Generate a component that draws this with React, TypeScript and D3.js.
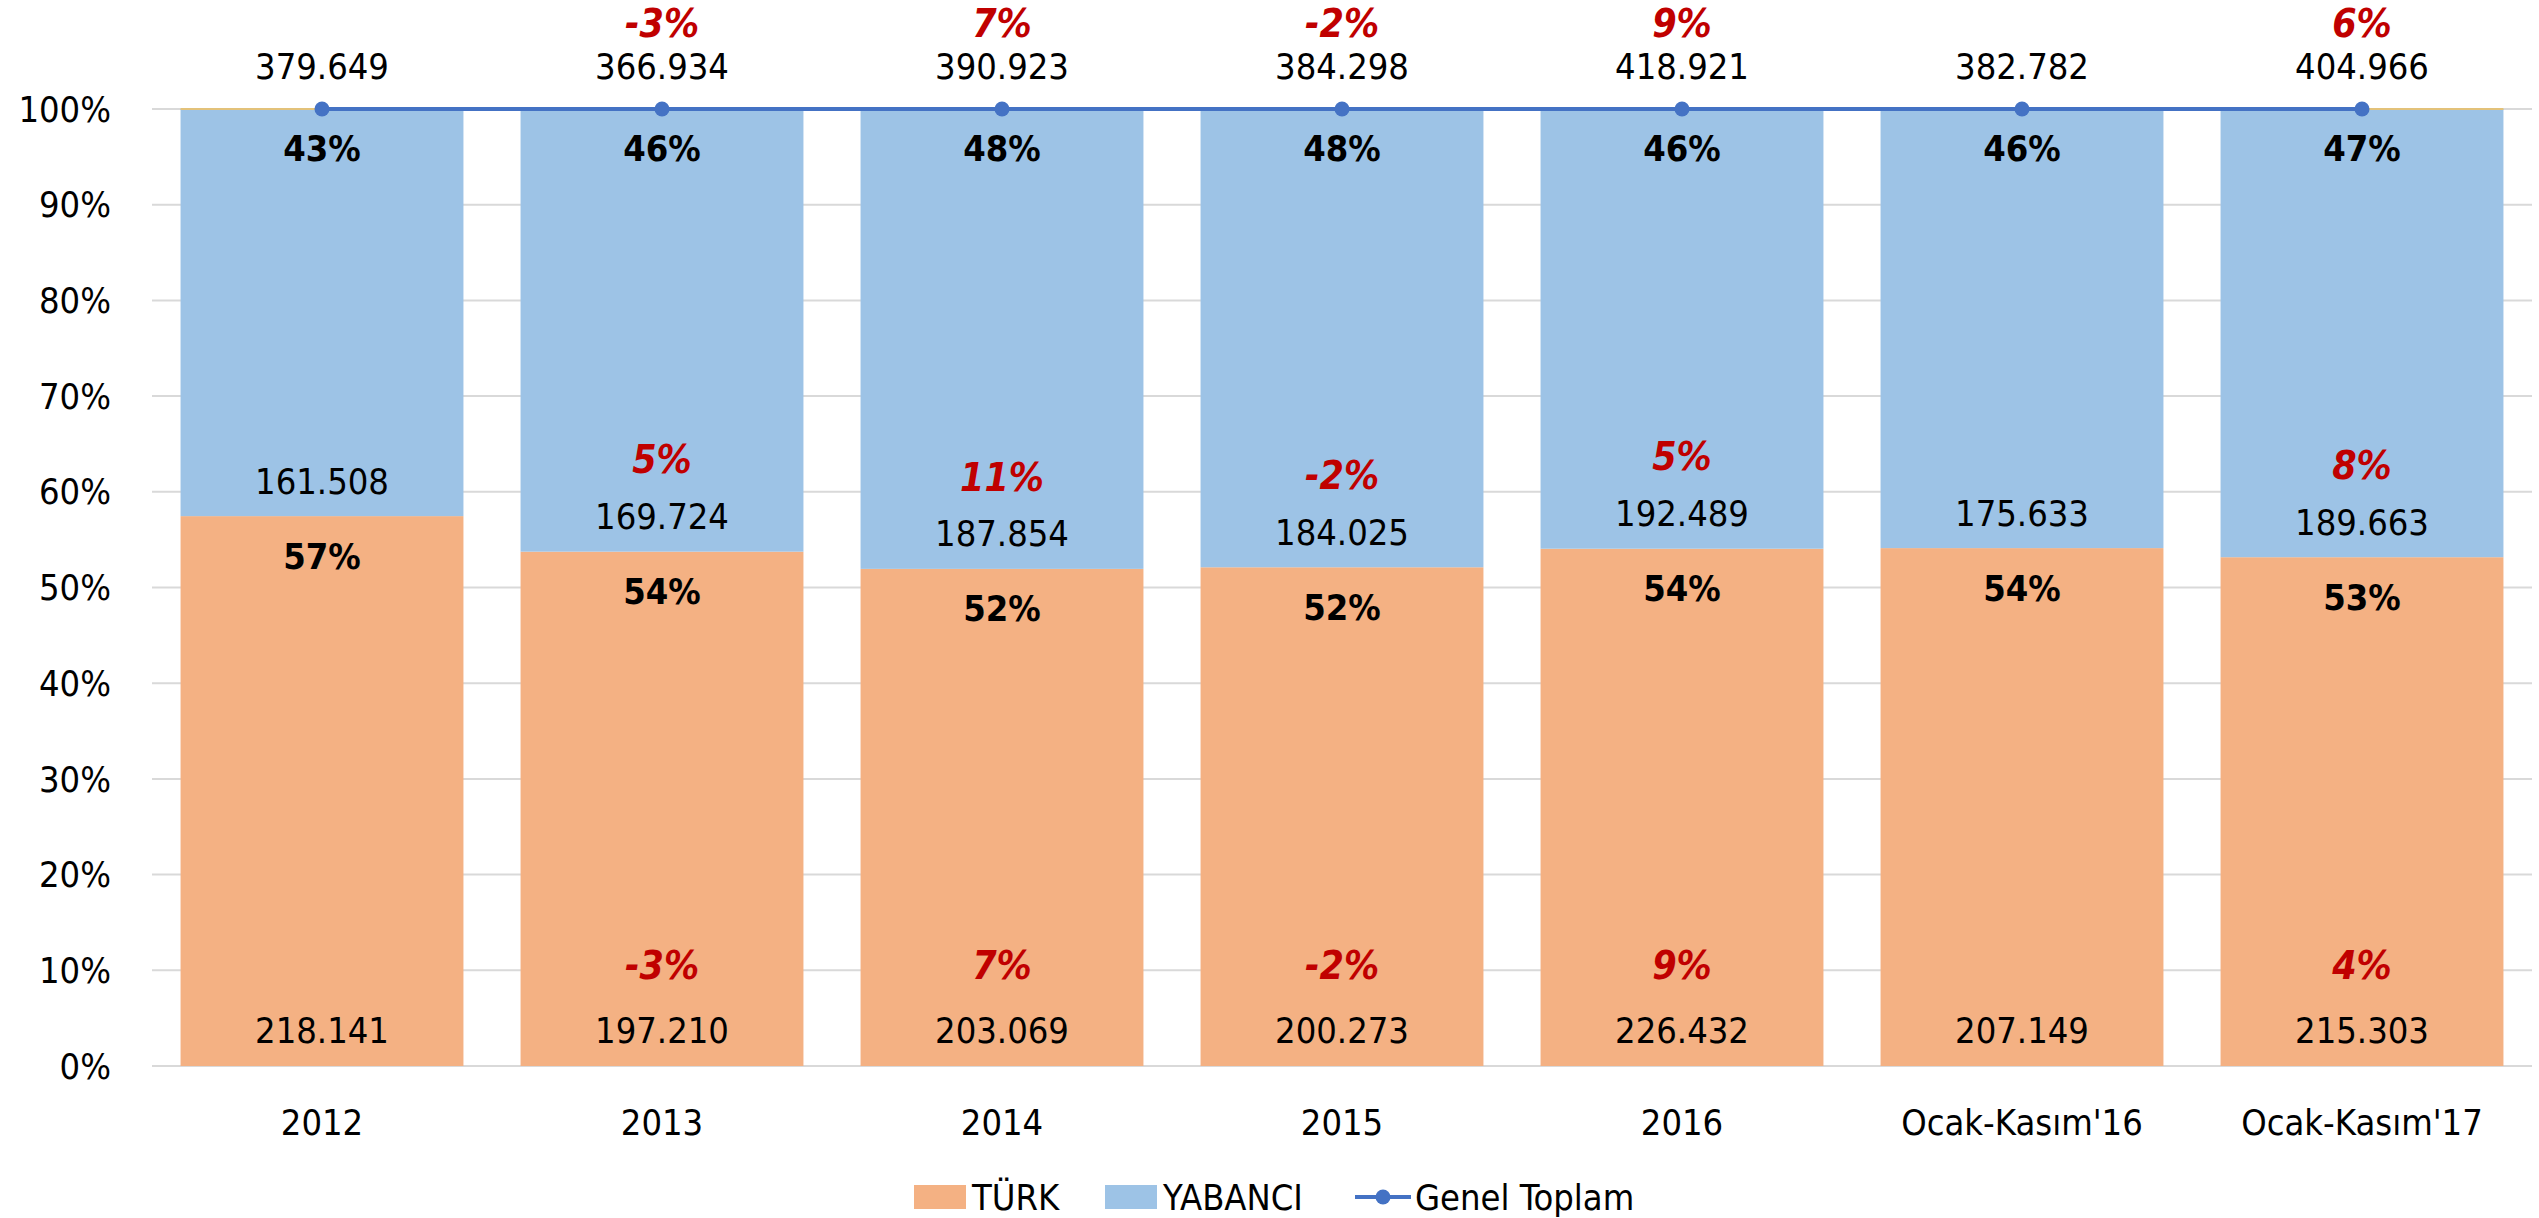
import { useEffect } from "react";
import { scaleBand, scaleLinear, format } from "d3";

// data
const categories = ["2012", "2013", "2014", "2015", "2016", "Ocak-Kasım'16", "Ocak-Kasım'17"];
const turk = [218141, 197210, 203069, 200273, 226432, 207149, 215303];
const yabanci = [161508, 169724, 187854, 184025, 192489, 175633, 189663];
const genelToplam = [379649, 366934, 390923, 384298, 418921, 382782, 404966];
// change labels written on the chart (red)
const toplamChange = ["", "-3%", "7%", "-2%", "9%", "", "6%"];
const yabanciChange = ["", "5%", "11%", "-2%", "5%", "", "8%"];
const turkChange = ["", "-3%", "7%", "-2%", "9%", "", "4%"];
const yTicks = [0, 0.1, 0.2, 0.3, 0.4, 0.5, 0.6, 0.7, 0.8, 0.9, 1];

const W = 2539;
const H = 1218;
const FONT = "'DejaVu Sans Condensed', 'Liberation Sans Narrow', 'DejaVu Sans', sans-serif";
const TURK_COLOR = "#F4B183";
const YAB_COLOR = "#9DC3E6";
const LINE_COLOR = "#4472C4";
const RED = "#C00000";

const num = (v: number) => format(",")(v).replace(/,/g, ".");
const pct = format(".0%");

function App() {
  useEffect(() => {
    document.body.style.margin = "0";
  }, []);

  const x = scaleBand<string>()
    .domain(categories)
    .range([152, 2532])
    .paddingInner(0.168)
    .paddingOuter(0.084);
  const y = scaleLinear().domain([0, 1]).range([1066, 109]);

  const rows = categories.map((c, i) => {
    const tShare = turk[i] / genelToplam[i];
    const yShare = yabanci[i] / genelToplam[i];
    return { c, i, tShare, yShare };
  });

  const bw = x.bandwidth();
  const cx = (c: string) => (x(c) as number) + bw / 2;
  const first = categories[0];
  const last = categories[categories.length - 1];

  return (
    <svg width={W} height={H} style={{ display: "block", background: "#fff" }} fontFamily={FONT}>
      {/* gridlines */}
      {yTicks.map((t) => (
        <line key={t} x1={152} x2={2532} y1={y(t)} y2={y(t)} stroke="#D9D9D9" strokeWidth={2} />
      ))}
      {/* y axis labels */}
      {yTicks.map((t) => (
        <text key={"l" + t} x={111} y={y(t)} dy="0.35em" textAnchor="end" fontSize={36} fill="#000">
          {pct(t)}
        </text>
      ))}

      {/* stacked bars */}
      {rows.map((r) => (
        <g key={r.c}>
          <rect x={x(r.c)} y={y(r.tShare)} width={bw} height={y(0) - y(r.tShare)} fill={TURK_COLOR} />
          <rect x={x(r.c)} y={y(1)} width={bw} height={y(r.tShare) - y(1)} fill={YAB_COLOR} />
        </g>
      ))}

      {/* thin hidden-series line at 100% */}
      <line x1={x(first)} x2={(x(last) as number) + bw} y1={y(1)} y2={y(1)} stroke="#E3C27A" strokeWidth={2} />

      {/* Genel Toplam line */}
      <line x1={cx(first)} x2={cx(last)} y1={y(1)} y2={y(1)} stroke={LINE_COLOR} strokeWidth={4} />
      {rows.map((r) => (
        <circle key={"m" + r.c} cx={cx(r.c)} cy={y(1)} r={7.5} fill={LINE_COLOR} />
      ))}

      {/* labels */}
      {rows.map((r) => {
        const mx = cx(r.c);
        const b = y(r.tShare);
        return (
          <g key={"t" + r.c} textAnchor="middle" fontSize={36}>
            <text x={mx} y={y(1) - 43} dy="0.35em">{num(genelToplam[r.i])}</text>
            <text x={mx} y={y(1) - 86} dy="0.35em" fill={RED} fontWeight="bold" fontStyle="italic" fontSize={39}>
              {toplamChange[r.i]}
            </text>
            <text x={mx} y={y(1) + 39} dy="0.35em" fontWeight="bold">{pct(r.yShare)}</text>
            <text x={mx} y={b - 35} dy="0.35em">{num(yabanci[r.i])}</text>
            <text x={mx} y={b - 92} dy="0.35em" fill={RED} fontWeight="bold" fontStyle="italic" fontSize={39}>
              {yabanciChange[r.i]}
            </text>
            <text x={mx} y={b + 40} dy="0.35em" fontWeight="bold">{pct(r.tShare)}</text>
            <text x={mx} y={y(0) - 36} dy="0.35em">{num(turk[r.i])}</text>
            <text x={mx} y={y(0) - 101} dy="0.35em" fill={RED} fontWeight="bold" fontStyle="italic" fontSize={39}>
              {turkChange[r.i]}
            </text>
            <text x={mx} y={1122} dy="0.35em">{r.c}</text>
          </g>
        );
      })}

      {/* legend */}
      <g fontSize={36}>
        <rect x={914} y={1185} width={52} height={24} fill={TURK_COLOR} />
        <text x={972} y={1197} dy="0.35em">TÜRK</text>
        <rect x={1105} y={1185} width={52} height={24} fill={YAB_COLOR} />
        <text x={1163} y={1197} dy="0.35em">YABANCI</text>
        <line x1={1355} x2={1411} y1={1197} y2={1197} stroke={LINE_COLOR} strokeWidth={4} />
        <circle cx={1383} cy={1197} r={7.5} fill={LINE_COLOR} />
        <text x={1415} y={1197} dy="0.35em">Genel Toplam</text>
      </g>
    </svg>
  );
}

export default App;
